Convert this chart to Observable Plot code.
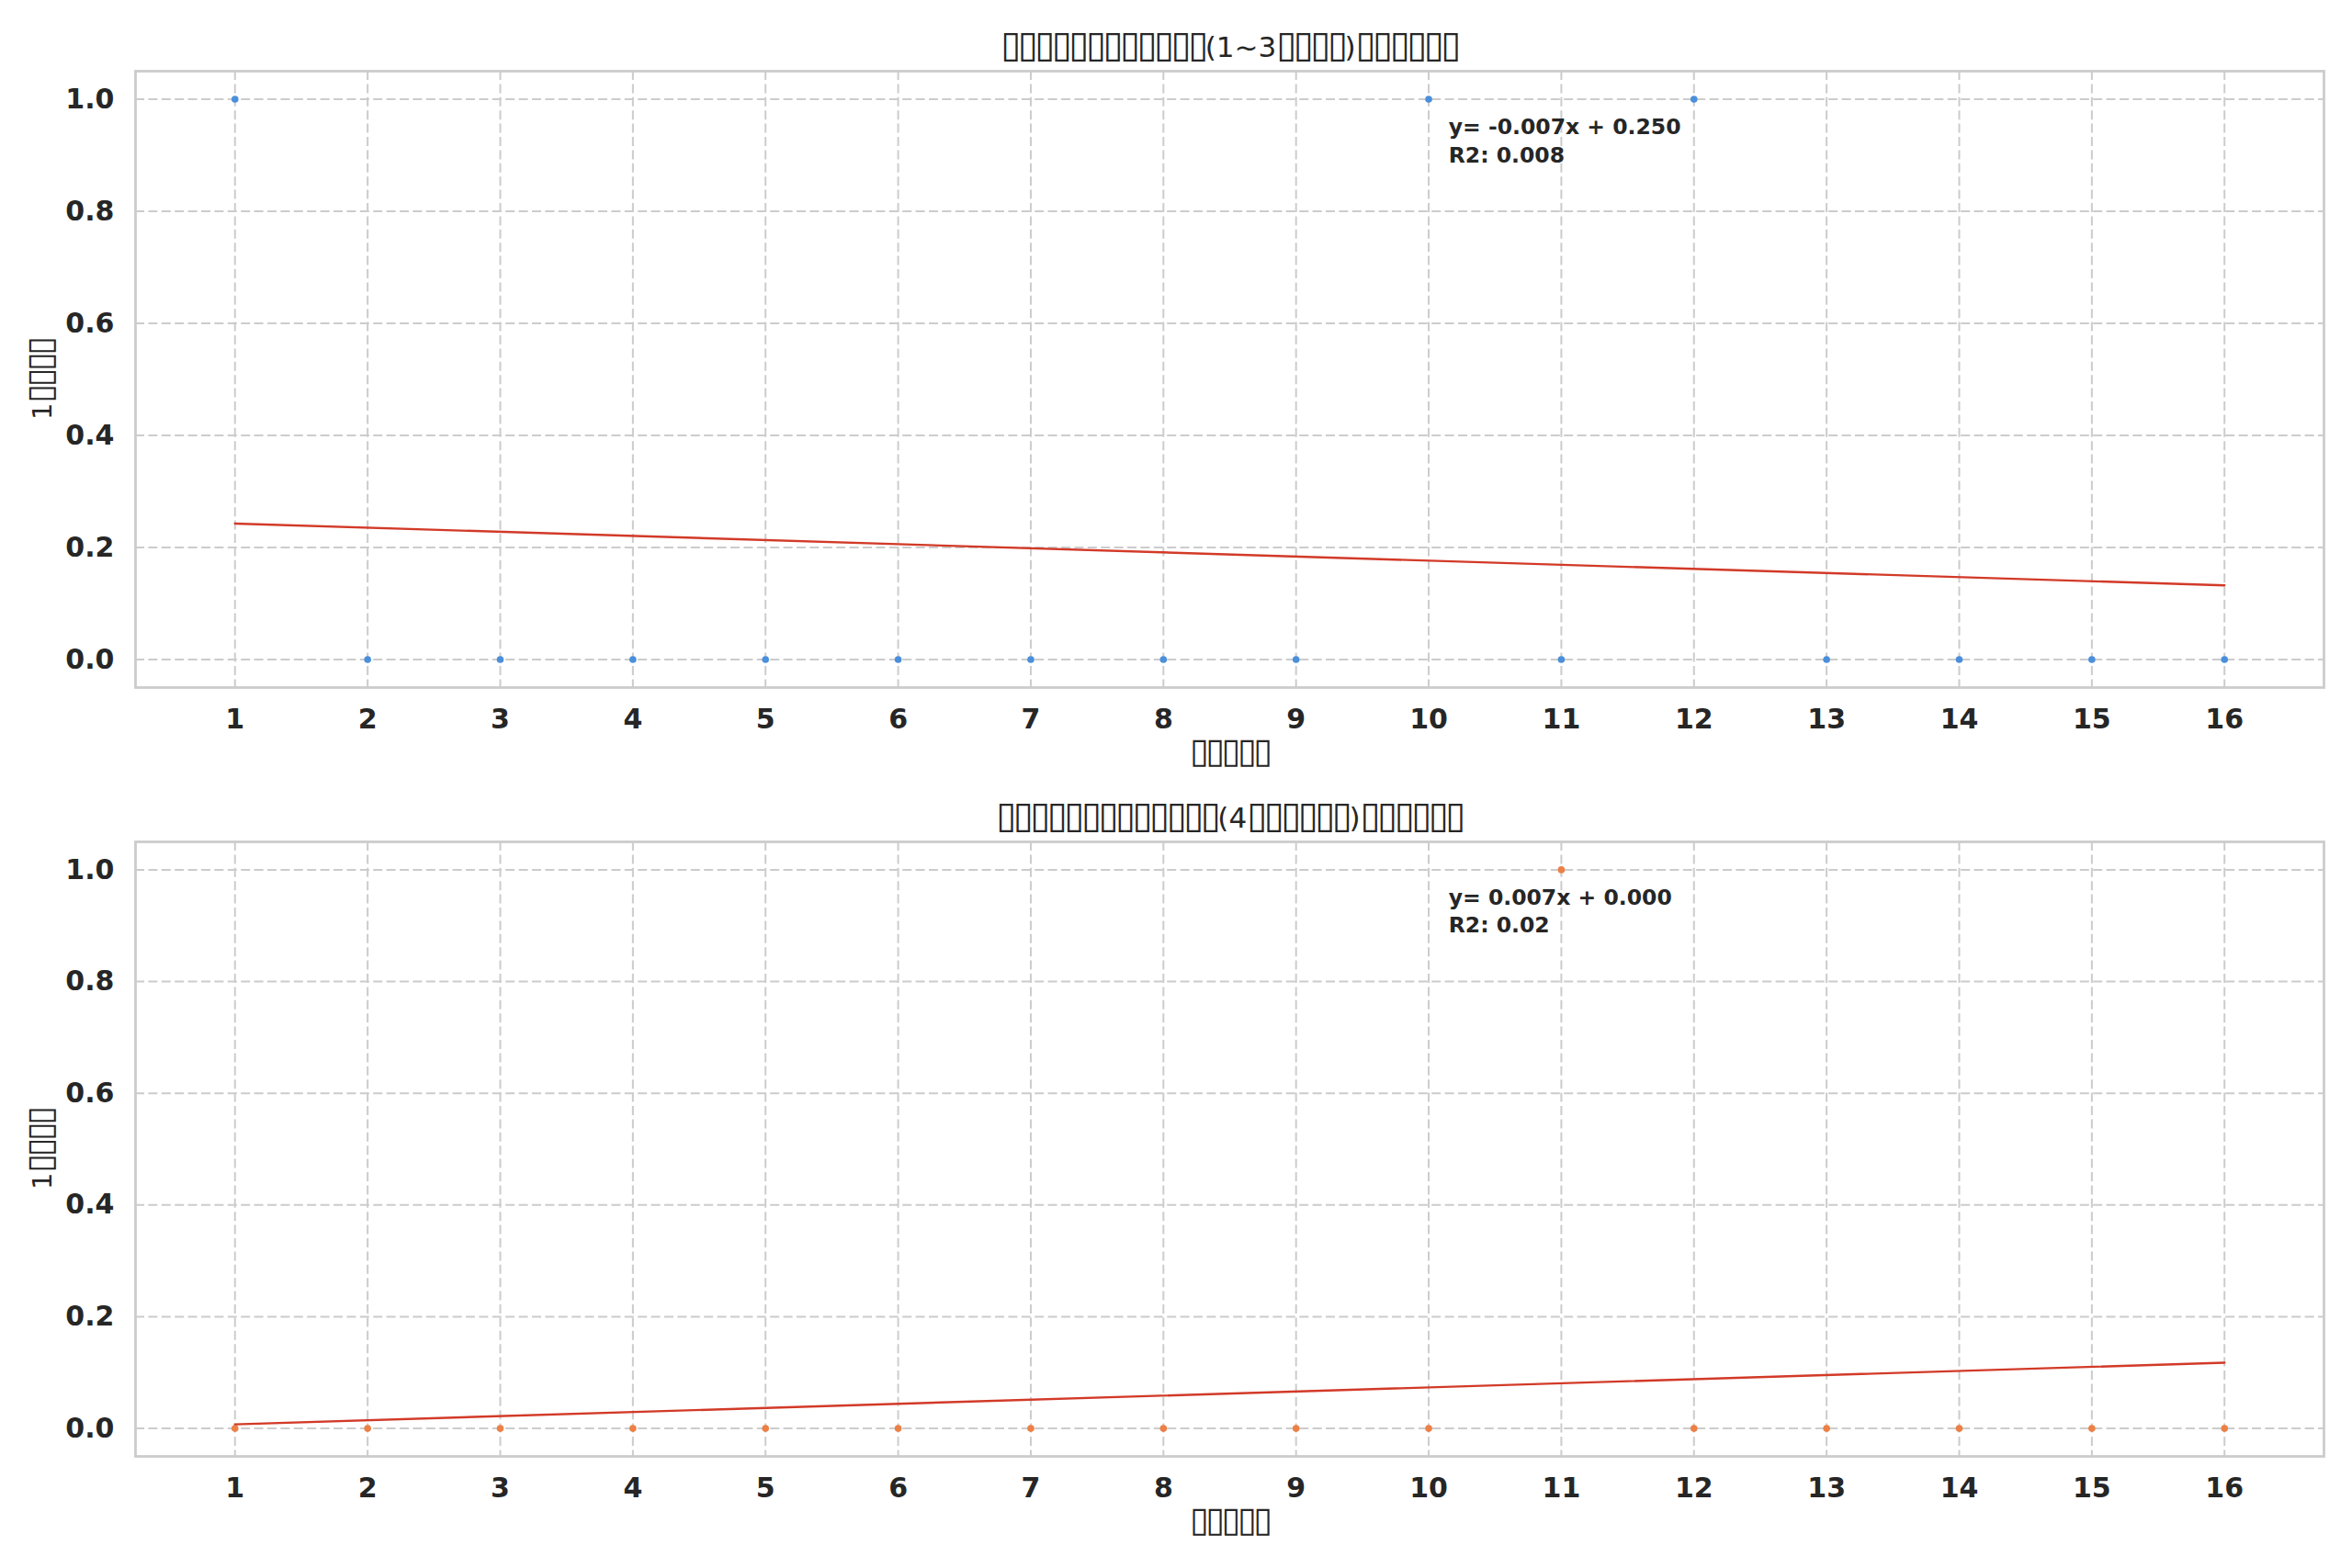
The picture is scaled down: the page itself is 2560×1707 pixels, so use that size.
<!DOCTYPE html>
<html><head><meta charset="utf-8">
<script src="https://cdn.jsdelivr.net/npm/d3@7"></script>
<script src="https://cdn.jsdelivr.net/npm/@observablehq/plot@0.6"></script>
<style>
html,body{margin:0;padding:0;background:#fff;}
body{width:2560px;height:1707px;overflow:hidden;font-family:"DejaVu Sans";color:#262626;}
.title{width:2560px;padding-left:147px;padding-right:31px;text-align:center;font-size:31px;line-height:31px;white-space:nowrap;box-sizing:border-box;}
.tf{font-size:1.3em;letter-spacing:-0.09em;}
svg{display:block;}
</style></head><body>
<div id="t1" class="title" style="height:75px;padding-top:33px"></div>
<div id="c1"></div>
<div id="t2" class="title" style="height:61px;padding-top:19px"></div>
<div id="c2"></div>
<script>
// ---- data ----
const months = [1,2,3,4,5,6,7,8,9,10,11,12,13,14,15,16];
const valuesTop = [1,0,0,0,0,0,0,0,0,1,0,1,0,0,0,0];
const valuesBottom = [0,0,0,0,0,0,0,0,0,0,1,0,0,0,0,0];
const yTicks = [0,0.2,0.4,0.6,0.8,1.0];
const titles = [
  "▯▯▯▯▯▯▯▯▯▯▯▯(1~3▯▯▯▯)▯▯▯▯▯▯",
  "▯▯▯▯▯▯▯▯▯▯▯▯▯(4▯▯▯▯▯▯)▯▯▯▯▯▯"
];
const xLabel = "▯▯▯▯▯";
const yLabel = "1▯▯▯▯";
const annotTop = ["y= -0.007x + 0.250", "R2: 0.008"];
const annotBottom = ["y= 0.007x + 0.000", "R2: 0.02"];
const dotColors = ["#4a8fdb", "#ec8046"];
const fitColor = "#d23a28";

// ---- helpers ----
function setTitle(el, s) {
  const parts = s.match(/▯+|[^▯]+/g);
  el.innerHTML = parts.map(p => p[0] === "▯" ? `<span class="tf">${p}</span>` : p).join("");
}
setTitle(document.getElementById("t1"), titles[0]);
setTitle(document.getElementById("t2"), titles[1]);

function boxify(svg) {
  svg.querySelectorAll("text").forEach(t => {
    const s = t.textContent;
    if (!s.includes("▯") || t.children.length) return;
    t.textContent = "";
    for (const p of s.match(/▯+|[^▯]+/g)) {
      const ts = document.createElementNS("http://www.w3.org/2000/svg", "tspan");
      if (p[0] === "▯") ts.setAttribute("class", "tf");
      ts.textContent = p;
      t.appendChild(ts);
    }
  });
  return svg;
}

function chart(values, color, annot, height, marginBottom) {
  const data = months.map((m, i) => ({month: m, value: values[i]}));
  const gridStyle = {stroke: "#cccccc", strokeOpacity: 1, strokeWidth: 2, strokeDasharray: "10,4.4"};
  return boxify(Plot.plot({
    width: 2560,
    height,
    marginTop: 2,
    marginBottom,
    marginLeft: 147,
    marginRight: 31,
    style: {fontFamily: "DejaVu Sans", color: "#262626", background: "white", overflow: "visible"},
    x: {domain: [0.25, 16.75]},
    y: {domain: [-0.05, 1.05]},
    marks: [
      Plot.gridX(months, gridStyle),
      Plot.gridY(yTicks, gridStyle),
      Plot.frame({stroke: "#cccccc", strokeWidth: 2.8}),
      Plot.dot(data, {x: "month", y: "value", r: 3.8, fill: color}),
      Plot.linearRegressionY(data, {x: "month", y: "value", stroke: fitColor, strokeWidth: 2.4, ci: 0}),
      Plot.axisX(months, {tickSize: 0, tickPadding: 23, fontSize: 30, fontWeight: "bold", tickFormat: d3.format("d"), label: null}),
      Plot.axisY(yTicks, {tickSize: 0, tickPadding: 23, fontSize: 30, fontWeight: "bold", tickFormat: d3.format(".1f"), label: null}),
      Plot.text([xLabel], {text: d => d, frameAnchor: "bottom", textAnchor: "middle", dy: 81, fontSize: 29}),
      Plot.text([yLabel], {text: d => d, frameAnchor: "left", textAnchor: "middle", rotate: -90, dx: -101, fontSize: 29}),
      Plot.text([annot.join("\n")], {text: d => d, x: 10.15, y: 0.972, textAnchor: "start", lineAnchor: "top", lineHeight: 1.28, fontSize: 23.5, fontWeight: "bold"})
    ]
  }));
}
document.getElementById("c1").append(chart(valuesTop, dotColors[0], annotTop, 778, 105));
document.getElementById("c2").append(chart(valuesBottom, dotColors[1], annotBottom, 793, 122));
</script>
</body></html>
